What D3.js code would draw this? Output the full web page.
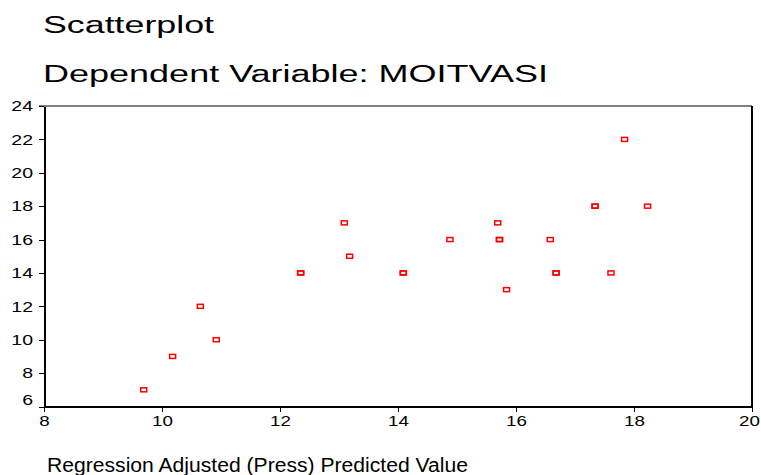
<!DOCTYPE html>
<html lang="en">
<head>
  <meta charset="utf-8">
  <title>Scatterplot</title>
  <script src="https://d3js.org/d3.v7.min.js"></script>
  <style>
    body {
      margin: 0;
      background: #fff;
      font-family: "Liberation Sans", Arial, sans-serif;
    }
    .axis path,
    .axis line {
      stroke: #000;
      shape-rendering: crispEdges;
    }
    .axis text {
      font-family: "Liberation Sans", Arial, sans-serif;
      font-size: 15px;
      fill: #000;
    }
    .title {
      font-size: 23px;
      fill: #000;
    }
    .xlabel {
      font-size: 20px;
      fill: #000;
    }
  </style>
</head>
<body>
<svg id="chart" width="761" height="475"></svg>

<script>
  // Données (valeur prédite ajustée, MOITVASI)
  const predicted = [9.69, 10.18, 10.65, 10.92, 12.35, 12.35, 13.09, 13.18, 14.09, 14.09,
                     14.88, 15.69, 15.72, 15.72, 15.84, 16.58, 16.68, 16.68, 17.34, 17.34,
                     17.61, 17.84, 18.23];
  const moitvasi  = [7, 9, 12, 10, 14, 14, 17, 15, 14, 14,
                     16, 17, 16, 16, 13, 16, 14, 14, 18, 18,
                     14, 22, 18];
  const xTicks = [8, 10, 12, 14, 16, 18, 20];
  const yTicks = [6, 8, 10, 12, 14, 16, 18, 20, 22, 24];

  const margin = { top: 106, right: 10, bottom: 69, left: 44 },
        width = 752 - margin.left,
        height = 406.5 - margin.top;

  const svg = d3.select("#chart");

  // le texte de l'original est étiré horizontalement
  function stretch(sel, factor) {
    sel.each(function() {
      const w = this.getComputedTextLength();
      d3.select(this).attr("textLength", w * factor).attr("lengthAdjust", "spacingAndGlyphs");
    });
  }
  function fitTo(sel, w) {
    sel.attr("textLength", w).attr("lengthAdjust", "spacingAndGlyphs");
  }

  // Titres
  fitTo(svg.append("text").attr("class", "title").attr("x", 43).attr("y", 33).text("Scatterplot"), 171);
  fitTo(svg.append("text").attr("class", "title").attr("x", 43).attr("y", 82).text("Dependent Variable: MOITVASI"), 505);

  const g = svg.append("g").attr("transform", `translate(${margin.left},${margin.top})`);

  const x = d3.scaleLinear().domain([8, 20]).range([0, width]);
  const y = d3.scaleLinear().domain([6, 24]).range([height, 0]);

  // Cadre : haut gris, droite noire
  g.append("line")
    .attr("x1", -5).attr("x2", width).attr("y1", 0).attr("y2", 0)
    .attr("stroke", "#808080").attr("stroke-width", 2)
    .attr("shape-rendering", "crispEdges");
  g.append("line")
    .attr("x1", width).attr("x2", width).attr("y1", 0).attr("y2", height)
    .attr("stroke", "#000").attr("stroke-width", 2)
    .attr("shape-rendering", "crispEdges");

  // Axes
  const yAxis = g.append("g")
    .attr("class", "axis")
    .call(d3.axisLeft(y).tickValues(yTicks).tickSize(5).tickSizeOuter(0).tickPadding(6));
  yAxis.select(".domain").attr("stroke-width", 2);
  // le 6 est remonté pour ne pas toucher l'axe x
  yAxis.selectAll(".tick text").filter(d => d === 6).attr("dy", "-0.15em");
  stretch(yAxis.selectAll(".tick text"), 1.3);

  const xAxis = g.append("g")
    .attr("class", "axis")
    .attr("transform", `translate(0,${height})`)
    .call(d3.axisBottom(x).tickValues(xTicks).tickSize(5).tickSizeOuter(0).tickPadding(4));
  xAxis.select(".domain").attr("stroke-width", 2);
  stretch(xAxis.selectAll(".tick text"), 1.25);
  // le 20 reste dans la fenêtre
  xAxis.selectAll(".tick text").filter(d => d === 20).attr("dx", -3);

  // Points : petits carrés rouges vides
  const data = predicted.map((p, i) => ({ p: p, v: moitvasi[i] }));
  g.selectAll("rect.pt")
    .data(data)
    .enter()
    .append("rect")
    .attr("class", "pt")
    .attr("x", d => x(d.p) - 3)
    .attr("y", d => y(d.v) - 2)
    .attr("width", 6)
    .attr("height", 4)
    .attr("fill", "none")
    .attr("stroke", "#ff0000")
    .attr("stroke-width", 1.5);

  // Titre de l'axe x
  fitTo(svg.append("text").attr("class", "xlabel").attr("x", 47).attr("y", 472)
    .text("Regression Adjusted (Press) Predicted Value"), 421);
</script>
</body>
</html>
